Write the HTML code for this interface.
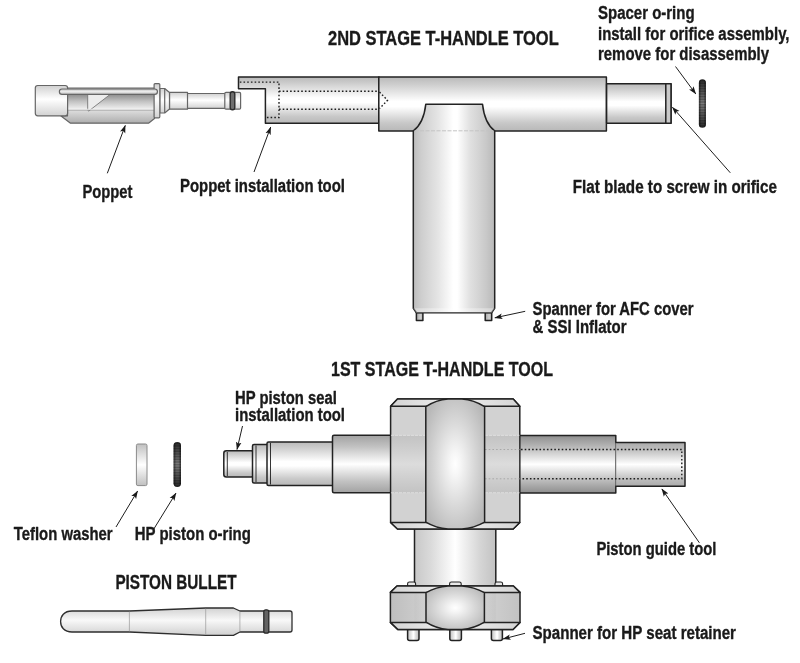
<!DOCTYPE html>
<html><head><meta charset="utf-8">
<style>
html,body{margin:0;padding:0;background:#fff;}
svg{display:block;will-change:transform;}
text{font-family:"Liberation Sans",sans-serif;font-weight:bold;fill:#1a1a1a;stroke:#1a1a1a;stroke-width:0.35px;stroke-linejoin:round;}
.t{font-size:20px;}
.l{font-size:17.5px;}
.o{stroke:#222;stroke-width:1.5;stroke-linejoin:round;}
.d{stroke:#1e1e1e;stroke-width:1.4;stroke-dasharray:1.6 2.1;fill:none;}
.a{stroke:#1e1e1e;stroke-width:1;fill:none;}
.g{stroke:#666;stroke-width:1.2;stroke-linejoin:round;}
</style></head><body>
<svg width="800" height="663" viewBox="0 0 800 663">
<defs>
<linearGradient id="ch" x1="0" y1="0" x2="0" y2="1">
<stop offset="0" stop-color="#bababa"/><stop offset="0.12" stop-color="#cbcbcb"/><stop offset="0.45" stop-color="#ffffff"/><stop offset="0.55" stop-color="#ffffff"/><stop offset="0.85" stop-color="#c8c8c8"/><stop offset="1" stop-color="#b8b8b8"/>
</linearGradient>
<linearGradient id="ch2" x1="0" y1="0" x2="0" y2="1">
<stop offset="0" stop-color="#8e8e8e"/><stop offset="0.2" stop-color="#b8b8b8"/><stop offset="0.5" stop-color="#ffffff"/><stop offset="0.8" stop-color="#b8b8b8"/><stop offset="1" stop-color="#8e8e8e"/>
</linearGradient>
<linearGradient id="cv" x1="0" y1="0" x2="1" y2="0">
<stop offset="0" stop-color="#bcbcbc"/><stop offset="0.1" stop-color="#cecece"/><stop offset="0.3" stop-color="#e4e4e4"/><stop offset="0.49" stop-color="#ffffff"/><stop offset="0.54" stop-color="#ffffff"/><stop offset="0.7" stop-color="#e0e0e0"/><stop offset="0.9" stop-color="#c8c8c8"/><stop offset="1" stop-color="#b8b8b8"/>
</linearGradient>
<linearGradient id="pl" x1="0" y1="0" x2="0" y2="1">
<stop offset="0" stop-color="#d0d0d0"/><stop offset="0.45" stop-color="#ffffff"/><stop offset="1" stop-color="#d2d2d2"/>
</linearGradient>
<linearGradient id="pd" x1="0" y1="0" x2="0" y2="1">
<stop offset="0" stop-color="#9a9a9a"/><stop offset="0.5" stop-color="#f4f4f4"/><stop offset="1" stop-color="#b0b0b0"/>
</linearGradient>
<radialGradient id="rg" cx="0.5" cy="0.5" r="0.6">
<stop offset="0" stop-color="#ffffff"/><stop offset="0.15" stop-color="#f6f6f6"/><stop offset="0.55" stop-color="#d8d8d8"/><stop offset="1" stop-color="#b8b8b8"/>
</radialGradient>
<linearGradient id="nut" x1="0" y1="0" x2="1" y2="0">
<stop offset="0" stop-color="#c2c2c2"/><stop offset="0.5" stop-color="#d6d6d6"/><stop offset="1" stop-color="#c0c0c0"/>
</linearGradient>
<linearGradient id="pb" x1="0" y1="0" x2="0" y2="1">
<stop offset="0" stop-color="#d2d2d2"/><stop offset="0.45" stop-color="#f8f8f8"/><stop offset="1" stop-color="#d0d0d0"/>
</linearGradient>
<linearGradient id="pbody" x1="0" y1="0" x2="0" y2="1">
<stop offset="0" stop-color="#bdbdbd"/><stop offset="0.6" stop-color="#e2e2e2"/><stop offset="1" stop-color="#adadad"/>
</linearGradient>
<linearGradient id="pwin" x1="0" y1="0" x2="0" y2="1">
<stop offset="0" stop-color="#8c8c8c"/><stop offset="0.5" stop-color="#c4c4c4"/><stop offset="1" stop-color="#f0f0f0"/>
</linearGradient>
<linearGradient id="prail" x1="0" y1="0" x2="0" y2="1">
<stop offset="0" stop-color="#c4c4c4"/><stop offset="0.5" stop-color="#ececec"/><stop offset="1" stop-color="#bcbcbc"/>
</linearGradient>
<linearGradient id="chf" x1="0" y1="0" x2="1" y2="0">
<stop offset="0" stop-color="#d4d4d4"/><stop offset="0.5" stop-color="#f0f0f0"/><stop offset="1" stop-color="#d4d4d4"/>
</linearGradient>
<linearGradient id="cv2" x1="0" y1="0" x2="1" y2="0">
<stop offset="0" stop-color="#c8c8c8"/><stop offset="0.2" stop-color="#dadada"/><stop offset="0.5" stop-color="#ffffff"/><stop offset="0.8" stop-color="#d6d6d6"/><stop offset="1" stop-color="#c2c2c2"/>
</linearGradient>
<linearGradient id="nut2" x1="0" y1="0" x2="1" y2="0">
<stop offset="0" stop-color="#bebebe"/><stop offset="0.25" stop-color="#cecece"/><stop offset="0.75" stop-color="#d0d0d0"/><stop offset="1" stop-color="#c2c2c2"/>
</linearGradient>
<linearGradient id="ch3" x1="0" y1="0" x2="0" y2="1">
<stop offset="0" stop-color="#ababab"/><stop offset="0.15" stop-color="#bcbcbc"/><stop offset="0.5" stop-color="#ffffff"/><stop offset="0.85" stop-color="#bcbcbc"/><stop offset="1" stop-color="#ababab"/>
</linearGradient>
<linearGradient id="pin" x1="0" y1="0" x2="1" y2="0">
<stop offset="0" stop-color="#a6a6a6"/><stop offset="0.6" stop-color="#cfcfcf"/><stop offset="1" stop-color="#b0b0b0"/>
</linearGradient>
<linearGradient id="ch2b" x1="0" y1="0" x2="0" y2="1">
<stop offset="0" stop-color="#a2a2a2"/><stop offset="0.2" stop-color="#c2c2c2"/><stop offset="0.5" stop-color="#ffffff"/><stop offset="0.8" stop-color="#c2c2c2"/><stop offset="1" stop-color="#a2a2a2"/>
</linearGradient>
<linearGradient id="wash" x1="0" y1="0" x2="0" y2="1">
<stop offset="0" stop-color="#c0c0c0"/><stop offset="0.5" stop-color="#ffffff"/><stop offset="1" stop-color="#c0c0c0"/>
</linearGradient>
<linearGradient id="ring" x1="0" y1="0" x2="0" y2="1">
<stop offset="0" stop-color="#2a2a2a"/><stop offset="0.5" stop-color="#808080"/><stop offset="1" stop-color="#2a2a2a"/>
</linearGradient>
<pattern id="ribs" width="4" height="1.6" patternUnits="userSpaceOnUse"><rect width="4" height="0.7" fill="#000" opacity="0.35"/></pattern>
<linearGradient id="ringx" x1="0" y1="0" x2="1" y2="0">
<stop offset="0" stop-color="#000" stop-opacity="0.55"/><stop offset="0.35" stop-color="#000" stop-opacity="0"/><stop offset="0.65" stop-color="#000" stop-opacity="0"/><stop offset="1" stop-color="#000" stop-opacity="0.55"/>
</linearGradient>
<marker id="ah" viewBox="0 0 10 10" refX="9.5" refY="5" markerWidth="8" markerHeight="8" orient="auto" markerUnits="userSpaceOnUse">
<path d="M0,1.5 L10,5 L0,8.5 L2.2,5 Z" fill="#1a1a1a"/>
</marker>
</defs>

<!-- ================= 2ND STAGE ================= -->
<g id="second">
<!-- install tool (left arm) -->
<path class="o" fill="url(#ch)" d="M238.5,77.1 H379 V123.3 H265.4 V88.8 H238.5 Z"/>
<!-- main T body -->
<rect class="o" fill="url(#ch)" x="378.8" y="77.1" width="227.6" height="53.8"/>
<!-- right shaft -->
<rect class="o" fill="url(#ch)" x="606.6" y="83.8" width="64.4" height="39.5"/>
<rect class="o" fill="#c9c9c9" x="665.8" y="83.8" width="5.2" height="39.5"/>
<!-- dotted -->
<path class="d" d="M239.8,82.1 H279 V117.5 H266.5"/>
<path class="d" d="M279,91.3 H379 M279,109.3 H379"/>
<path class="d" d="M379.5,92 L387.5,100.3 L379.5,108.6"/>
<!-- pins -->
<rect class="o" fill="url(#pin)" x="416.4" y="312.5" width="6.5" height="8"/>
<rect class="o" fill="url(#pin)" x="485.2" y="312.5" width="6.5" height="8"/>
<!-- vertical handle -->
<path class="o" fill="url(#cv)" d="M425.8,104.2 H482.5 C484,118 488,126 494.7,130.9 V308.3 L491.6,312.7 H416.4 L413.3,308.3 V130.9 C420,126 424.3,118 425.8,104.2 Z"/>
<path d="M413.3,308.3 L416.4,312.7 H491.6 L494.7,308.3 Z" fill="#fff" opacity="0.35"/>
<path d="M414.5,130.8 H493.5" stroke="#c4c4c4" stroke-width="1" stroke-dasharray="4 1.5" fill="none"/>
<!-- spacer o-ring -->
<g><rect x="698.9" y="79.2" width="7" height="48.6" rx="3.5" fill="url(#ring)"/><rect x="698.9" y="79.2" width="7" height="48.6" rx="3.5" fill="url(#ribs)"/><rect x="698.9" y="79.2" width="7" height="48.6" rx="3.5" fill="url(#ringx)"/></g>
<!-- poppet -->
<g id="poppet">
<rect class="g" fill="url(#pl)" x="187" y="93.5" width="38.5" height="14.8"/>
<rect class="g" fill="url(#pl)" x="224.8" y="92.3" width="15.8" height="16.9" rx="1.2"/>
<rect x="230.2" y="91.8" width="4.6" height="17.9" rx="2.2" fill="#6e6e6e" stroke="#2c2c2c" stroke-width="1.4"/>
<rect class="g" fill="url(#pl)" x="169.5" y="92.3" width="18" height="16.9"/>
<path class="g" fill="url(#pl)" d="M159.8,88.5 H164.7 L169.5,92.5 V109 L164.7,113 H159.8 Z"/>
<path class="g" fill="none" d="M164.7,88.5 V113"/>
<!-- body -->
<path class="g" fill="url(#pbody)" d="M67.5,88 H154.5 V118.5 L148.5,123.2 H70.5 L61,116 H67.5 Z"/>
<rect x="67.5" y="94.2" width="87" height="15" fill="url(#pwin)"/>
<path fill="#ececec" stroke="#777" stroke-width="0.9" stroke-linejoin="round" d="M87.7,94.5 H110 L88.6,111.2 L87.7,109.5 Z"/>
<path d="M67.5,109.3 H154.5" stroke="#f4f4f4" stroke-width="1" fill="none"/>
<path d="M67.5,110.2 H154.5" stroke="#9a9a9a" stroke-width="0.7" fill="none"/>
<rect class="g" fill="url(#pl)" x="35.3" y="85.5" width="32.3" height="30.3" rx="2.5"/>
<rect class="g" fill="url(#pl)" x="154.1" y="83.6" width="5.7" height="34.2" rx="1"/>
<rect class="g" fill="url(#prail)" x="59.4" y="89" width="98" height="5.3" rx="2.6"/>
</g>
<!-- arrows -->
<path class="a" marker-end="url(#ah)" d="M107.3,173.3 L125.3,125.4"/>
<path class="a" marker-end="url(#ah)" d="M254,172 L270.7,127"/>
<path class="a" marker-end="url(#ah)" d="M675.5,66.5 L695.8,94"/>
<path class="a" marker-end="url(#ah)" d="M730.3,172.8 L672.4,107.2"/>
<path class="a" marker-end="url(#ah)" d="M525.2,311.3 L494.8,317.8"/>
<!-- labels -->
<text class="t" x="328" y="45" textLength="230.7" lengthAdjust="spacingAndGlyphs">2ND STAGE T-HANDLE TOOL</text>
<text class="l" x="598" y="19" textLength="96.6" lengthAdjust="spacingAndGlyphs">Spacer o-ring</text>
<text class="l" x="598" y="39.6" textLength="191.5" lengthAdjust="spacingAndGlyphs">install for orifice assembly,</text>
<text class="l" x="598" y="60.2" textLength="171" lengthAdjust="spacingAndGlyphs">remove for disassembly</text>
<text class="l" x="82.5" y="197.5" textLength="50" lengthAdjust="spacingAndGlyphs">Poppet</text>
<text class="l" x="180" y="191.5" textLength="165" lengthAdjust="spacingAndGlyphs">Poppet installation tool</text>
<text class="l" x="572.7" y="193" textLength="204.3" lengthAdjust="spacingAndGlyphs">Flat blade to screw in orifice</text>
<text class="l" x="532.5" y="314.5" textLength="161" lengthAdjust="spacingAndGlyphs">Spanner for AFC cover</text>
<text class="l" x="532.5" y="333" textLength="94" lengthAdjust="spacingAndGlyphs">&amp; SSI Inflator</text>
</g>

<!-- ================= 1ST STAGE ================= -->
<g id="first">
<!-- left shafts -->
<rect class="o" fill="url(#ch)" x="223.8" y="450.8" width="30" height="26.2" rx="2.5"/>
<rect class="o" fill="url(#ch)" x="252.5" y="444.5" width="16" height="38.5" rx="1.5"/>
<rect class="o" fill="url(#ch)" x="267" y="442" width="67" height="43.5" rx="1.5"/>
<rect class="o" fill="url(#ch2b)" x="332.5" y="435.3" width="59" height="57.4" rx="1.5"/>
<path d="M227.3,452 V476 M256,445.5 V482 M270.5,443 V484.5" stroke="#1e1e1e" stroke-width="0.9" fill="none"/>
<!-- right shafts -->
<rect class="o" fill="url(#ch2)" x="519" y="435.5" width="96.8" height="57.5"/>
<rect fill="url(#ch3)" x="615.8" y="442.5" width="69.2" height="43.8"/>
<path class="o" fill="none" d="M615.8,442.5 H685 V486.3 H615.8"/>
<path d="M615.8,443.3 V485.5" stroke="#8a8a8a" stroke-width="0.9" fill="none"/>
<path class="d" d="M521,449.5 H681.8 V478.8 H521"/>
<!-- vertical neck -->
<rect class="o" fill="url(#cv2)" x="414.5" y="528" width="81.3" height="60"/>
<!-- top pins of lower nut -->
<rect class="o" style="stroke-width:1.1" fill="#e8e8e8" x="407.6" y="582" width="8" height="6" rx="1.8"/>
<rect class="o" style="stroke-width:1.1" fill="#e8e8e8" x="449.6" y="582" width="11.6" height="6" rx="1.8"/>
<rect class="o" style="stroke-width:1.1" fill="#e8e8e8" x="495" y="582" width="7.6" height="6" rx="1.8"/>
<!-- bottom pins -->
<rect class="o" fill="url(#cv)" x="407.6" y="628" width="11.4" height="12.4" rx="2"/>
<rect class="o" fill="url(#cv)" x="449.8" y="628" width="11.6" height="12.4" rx="2"/>
<rect class="o" fill="url(#cv)" x="491.4" y="628" width="11" height="12.4" rx="2"/>
<!-- big hex nut -->
<path class="o" fill="#d2d2d2" d="M397.5,399 H513.2 L519.8,406.2 V522.5 L513.2,529 H397.5 L390.6,522.5 V406.2 Z"/>
<rect x="391" y="435.5" width="128.5" height="57.2" fill="url(#ch2)" opacity="0.22"/>
<path d="M391,435.3 H425 M485,435.3 H519.5 M391,492.8 H425 M485,492.8 H519.5" stroke="#e4e4e4" stroke-width="0.8" stroke-dasharray="3 1" fill="none"/>
<path d="M485,449.5 H519.5 M485,478.8 H519.5" stroke="#a8a8a8" stroke-width="1" stroke-dasharray="1.6 2.1" fill="none"/>
<path class="o" fill="url(#chf)" d="M397.5,399 H513.2 L519.8,406.2 H390.6 Z"/>
<path class="o" fill="url(#chf)" d="M390.6,522.5 H519.8 L513.2,529 H397.5 Z"/>
<path class="o" fill="url(#rg)" d="M425.8,406.6 Q436,400 448,399 H462 Q474,400 484.6,406.6 V522.2 Q474,528.2 462,529 H448 Q436,528.2 425.8,522.2 Z"/>
<!-- lower nut -->
<path class="o" fill="url(#nut2)" d="M397,586 H513.4 L520,592.4 V622.4 L513,629.6 H398 L390.4,622.4 V592.4 Z"/>
<rect x="414.5" y="587" width="81.3" height="42" fill="url(#cv)" opacity="0.25"/>
<path class="o" fill="url(#chf)" d="M397,586 H513.4 L520,592.4 H390.4 Z"/>
<path class="o" fill="url(#chf)" d="M390.4,622.4 H520 L513,629.6 H398 Z"/>
<path class="o" fill="url(#rg)" d="M426,592.6 Q436,587 448,586 H462 Q474,587 484.4,592.6 V622.2 Q474,628.6 462,629.6 H448 Q436,628.6 426,622.2 Z"/>
<!-- washer + o-ring -->
<rect x="136.4" y="444" width="10.6" height="41.6" rx="1.5" fill="url(#wash)" stroke="#8a8a8a" stroke-width="1"/>
<g><rect x="173.6" y="442" width="7.4" height="45" rx="3.7" fill="url(#ring)"/><rect x="173.6" y="442" width="7.4" height="45" rx="3.7" fill="url(#ribs)"/><rect x="173.6" y="442" width="7.4" height="45" rx="3.7" fill="url(#ringx)"/></g>
<!-- piston bullet -->
<path fill="url(#pb)" stroke="#2e2e2e" stroke-width="1.3" stroke-linejoin="round" d="M72,611 H129.4 L205.7,608 H233.4 L239.9,611 H290 Q292,611 292,613 V630 Q292,632 290,632 H239.9 L233.4,635.3 H205.7 L129.4,632 H72 C64,632 60.6,627 60.6,621.5 C60.6,616 64,611 72,611 Z"/>
<path d="M129.4,611.6 V631.4 M205.7,608.6 V634.7 M239.9,611.6 V631.4" stroke="#9a9a9a" stroke-width="0.7" fill="none"/>
<rect x="263.8" y="609.8" width="5" height="23.4" rx="2" fill="#636363" stroke="#2a2a2a" stroke-width="1.3"/>
<!-- arrows -->
<path class="a" marker-end="url(#ah)" d="M242.5,426 L237,449.5"/>
<path class="a" marker-end="url(#ah)" d="M116,527 L137.6,491"/>
<path class="a" marker-end="url(#ah)" d="M153.2,530 L176,493"/>
<path class="a" marker-end="url(#ah)" d="M699.4,542.8 L661.8,488.9"/>
<path class="a" marker-end="url(#ah)" d="M525,633.3 L503,639"/>
<!-- labels -->
<text class="t" x="331" y="375.5" textLength="222" lengthAdjust="spacingAndGlyphs">1ST STAGE T-HANDLE TOOL</text>
<text class="l" x="235" y="404.3" textLength="101.8" lengthAdjust="spacingAndGlyphs">HP piston seal</text>
<text class="l" x="235" y="420.8" textLength="110" lengthAdjust="spacingAndGlyphs">installation tool</text>
<text class="l" x="13.8" y="540.4" textLength="98.8" lengthAdjust="spacingAndGlyphs">Teflon washer</text>
<text class="l" x="134.8" y="540.4" textLength="116" lengthAdjust="spacingAndGlyphs">HP piston o-ring</text>
<text class="t" x="115.4" y="588.6" textLength="121.2" lengthAdjust="spacingAndGlyphs">PISTON BULLET</text>
<text class="l" x="596.4" y="554.5" textLength="120" lengthAdjust="spacingAndGlyphs">Piston guide tool</text>
<text class="l" x="532.5" y="638.5" textLength="203.5" lengthAdjust="spacingAndGlyphs">Spanner for HP seat retainer</text>
</g>
</svg>
</body></html>
